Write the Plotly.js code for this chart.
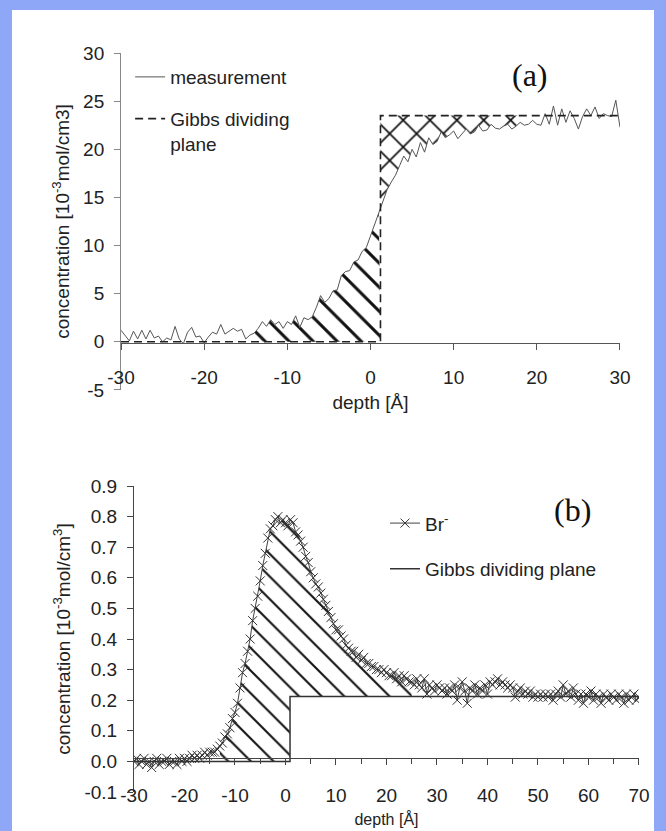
<!DOCTYPE html>
<html><head><meta charset="utf-8">
<script src="https://cdn.plot.ly/plotly-3.0.1.min.js"></script>
<style>
html,body{margin:0;padding:0;background:#8ea7f6;width:666px;height:831px;overflow:hidden}
#chart{position:absolute;left:12px;top:10px;width:642px;height:821px;background:#fff}
</style></head><body><div id="chart"></div>
<script>
// ---------- panel (a) ----------
const depthA = [
-30,-29.5,-29,-28.5,-28,-27.5,-27,-26.5,-26,-25.5,
-25,-24.5,-24,-23.5,-23,-22.5,-22,-21.5,-21,-20.5,
-20,-19.5,-19,-18.5,-18,-17.5,-17,-16.5,-16,-15.5,
-15,-14.5,-14,-13.5,-13,-12.5,-12,-11.5,-11,-10.5,
-10,-9.5,-9,-8.5,-8,-7.5,-7,-6.5,-6,-5.5,
-5,-4.5,-4,-3.5,-3,-2.5,-2,-1.5,-1,-0.5,
0,0.5,1,1.5,2,2.5,3,3.5,4,4.5,
5,5.5,6,6.5,7,7.5,8,8.5,9,9.5,
10,10.5,11,11.5,12,12.5,13,13.5,14,14.5,
15,15.5,16,16.5,17,17.5,18,18.5,19,19.5,
20,20.5,21,21.5,22,22.5,23,23.5,24,24.5,
25,25.5,26,26.5,27,27.5,28,28.5,29,29.5,
30];
const measurement = [
1.2,0.6,0.1,1.1,0.3,1.2,0.3,1.2,0.4,0.6,
0.0,0.4,0.2,1.6,0.3,-0.2,1.0,1.5,0.5,0.6,
-0.1,0.5,1.0,0.8,1.8,0.8,1.1,1.4,1.1,1.3,
0.3,0.7,0.9,1.4,2.1,1.6,2.3,1.8,2.1,1.4,
2.1,1.8,2.7,1.5,2.5,2.3,2.6,3.6,4.8,4.1,
4.5,5.3,5.4,6.9,7.3,7.4,8.3,8.5,9.4,9.8,
11.0,12.2,13.4,14.4,15.8,16.6,17.3,18.3,19.3,18.7,
20.0,19.2,20.7,19.7,21.2,20.5,20.8,21.8,21.2,21.5,
21.9,21.1,21.6,22.1,21.6,21.8,22.5,21.9,22.0,22.6,
22.2,22.1,22.4,22.6,22.1,22.4,22.8,22.5,22.6,23.0,
22.6,22.5,23.7,22.6,24.5,22.5,24.2,22.8,24.0,23.2,
22.1,23.4,24.2,23.5,24.4,23.2,23.7,23.5,23.4,25.1,
22.3];
const gibbsAX = [-30, 1.2, 1.2, 30];
const gibbsAY = [0, 0, 23.5, 23.5];
const hatchRangeA = [-14, 1.2];
const crossRangeA = [1.2, 19];
const xTickValsA = [-30,-20,-10,0,10,20,30];
const xTickTextA = ['-30','-20','-10','0','10','20','30'];
const yTickValsA = [-5,0,5,10,15,20,25,30];
const yTickTextA = ['-5','0','5','10','15','20','25','30'];

// ---------- panel (b) ----------
const depthB = [
-30,-29.5,-29,-28.5,-28,-27.5,-27,-26.5,-26,-25.5,
-25,-24.5,-24,-23.5,-23,-22.5,-22,-21.5,-21,-20.5,
-20,-19.5,-19,-18.5,-18,-17.5,-17,-16.5,-16,-15.5,
-15,-14.5,-14,-13.5,-13,-12.5,-12,-11.5,-11,-10.5,
-10,-9.5,-9,-8.5,-8,-7.5,-7,-6.5,-6,-5.5,
-5,-4.5,-4,-3.5,-3,-2.5,-2,-1.5,-1,-0.5,
0,0.5,1,1.5,2,2.5,3,3.5,4,4.5,
5,5.5,6,6.5,7,7.5,8,8.5,9,9.5,
10,10.5,11,11.5,12,12.5,13,13.5,14,14.5,
15,15.5,16,16.5,17,17.5,18,18.5,19,19.5,
20,20.5,21,21.5,22,22.5,23,23.5,24,24.5,
25,25.5,26,26.5,27,27.5,28,28.5,29,29.5,
30,30.5,31,31.5,32,32.5,33,33.5,34,34.5,
35,35.5,36,36.5,37,37.5,38,38.5,39,39.5,
40,40.5,41,41.5,42,42.5,43,43.5,44,44.5,
45,45.5,46,46.5,47,47.5,48,48.5,49,49.5,
50,50.5,51,51.5,52,52.5,53,53.5,54,54.5,
55,55.5,56,56.5,57,57.5,58,58.5,59,59.5,
60,60.5,61,61.5,62,62.5,63,63.5,64,64.5,
65,65.5,66,66.5,67,67.5,68,68.5,69,69.5,
70];
const bromide = [
0.00,0.01,-0.01,0.00,0.01,-0.01,0.00,-0.02,0.00,0.01,
-0.01,0.00,0.00,0.01,-0.01,0.00,0.00,-0.01,0.01,0.00,
0.01,0.00,0.01,0.02,0.01,0.02,0.01,0.02,0.03,0.02,
0.03,0.03,0.03,0.04,0.05,0.06,0.08,0.09,0.11,0.14,
0.16,0.19,0.24,0.29,0.32,0.36,0.40,0.46,0.50,0.54,
0.59,0.64,0.68,0.73,0.76,0.77,0.79,0.80,0.78,0.79,
0.78,0.77,0.79,0.78,0.75,0.74,0.72,0.70,0.67,0.65,
0.62,0.60,0.58,0.57,0.55,0.53,0.51,0.49,0.47,0.45,
0.43,0.43,0.41,0.40,0.38,0.37,0.36,0.36,0.34,0.35,
0.33,0.34,0.32,0.32,0.31,0.31,0.30,0.30,0.29,0.30,
0.29,0.28,0.28,0.29,0.27,0.28,0.26,0.28,0.27,0.26,
0.26,0.25,0.27,0.25,0.24,0.27,0.22,0.25,0.24,0.23,
0.25,0.24,0.23,0.24,0.22,0.24,0.23,0.25,0.20,0.24,
0.26,0.23,0.19,0.24,0.23,0.25,0.22,0.24,0.23,0.25,
0.22,0.26,0.25,0.26,0.27,0.25,0.26,0.25,0.24,0.25,
0.24,0.21,0.23,0.24,0.22,0.23,0.22,0.23,0.21,0.22,
0.21,0.22,0.21,0.22,0.21,0.22,0.20,0.22,0.23,0.21,
0.25,0.22,0.23,0.21,0.24,0.22,0.20,0.22,0.19,0.22,
0.21,0.23,0.20,0.22,0.21,0.19,0.22,0.21,0.20,0.22,
0.21,0.20,0.22,0.21,0.19,0.22,0.20,0.21,0.22,0.20,
0.21];
const gibbsBX = [-30, 0.9, 0.9, 70.5];
const gibbsBY = [0, 0, 0.212, 0.212];
const hatchRangeB = [-13, 25];
const xTickValsB = [-30,-20,-10,0,10,20,30,40,50,60,70];
const xTickTextB = ['-30','-20','-10','0','10','20','30','40','50','60','70'];
const yTickValsB = [-0.1,0,0.1,0.2,0.3,0.4,0.5,0.6,0.7,0.8,0.9];
const yTickTextB = ['-0.1','0.0','0.1','0.2','0.3','0.4','0.5','0.6','0.7','0.8','0.9'];

// ---------- build hatched polygons from the data ----------
function hatchLeftA(){
  const xs=[], ys=[];
  for(let i=0;i<depthA.length;i++){
    if(depthA[i]>=hatchRangeA[0] && depthA[i]<=hatchRangeA[1]){xs.push(depthA[i]);ys.push(measurement[i]);}
  }
  xs.push(gibbsAX[1]); ys.push(gibbsAY[1]);
  xs.push(hatchRangeA[0]); ys.push(0);
  return {x:xs,y:ys};
}
function crossRightA(){
  const top=gibbsAY[2];
  const xs=[crossRangeA[0],crossRangeA[1]], ys=[top,top];
  let lastY=top;
  for(let i=depthA.length-1;i>=0;i--){
    if(depthA[i]<=crossRangeA[1] && depthA[i]>=crossRangeA[0]){xs.push(depthA[i]);ys.push(measurement[i]);lastY=measurement[i];}
  }
  xs.push(crossRangeA[0]); ys.push(lastY);
  return {x:xs,y:ys};
}
function hatchB(){
  const xs=[], ys=[];
  for(let i=0;i<depthB.length;i++){
    if(depthB[i]>=hatchRangeB[0] && depthB[i]<=hatchRangeB[1]){xs.push(depthB[i]);ys.push(bromide[i]);}
  }
  xs.push(hatchRangeB[1]); ys.push(gibbsBY[2]);
  xs.push(gibbsBX[1]); ys.push(gibbsBY[2]);
  xs.push(gibbsBX[1]); ys.push(0);
  xs.push(hatchRangeB[0]); ys.push(0);
  return {x:xs,y:ys};
}
const hA=hatchLeftA(), cA=crossRightA(), hB=hatchB();

const FONT='Liberation Sans, Arial, Helvetica, sans-serif';
const traces=[
  {x:hA.x,y:hA.y,type:'scatter',mode:'lines',fill:'toself',fillcolor:'white',
   line:{width:0,color:'#111'},showlegend:false,hoverinfo:'skip',xaxis:'x',yaxis:'y',
   fillpattern:{shape:'\\',size:17,solidity:0.18,fgcolor:'#111',bgcolor:'white',fillmode:'replace'}},
  {x:cA.x,y:cA.y,type:'scatter',mode:'lines',fill:'toself',fillcolor:'white',
   line:{width:0,color:'#111'},showlegend:false,hoverinfo:'skip',xaxis:'x',yaxis:'y',
   fillpattern:{shape:'x',size:19,solidity:0.17,fgcolor:'#111',bgcolor:'white',fillmode:'replace'}},
  {x:depthA,y:measurement,type:'scatter',mode:'lines',name:'measurement',
   line:{color:'#555',width:1},xaxis:'x',yaxis:'y',legend:'legend',legendgroup:'m'},
  {x:gibbsAX,y:gibbsAY,type:'scatter',mode:'lines',name:'Gibbs dividing<br>plane',
   line:{color:'#222',width:1.6,dash:'8px,5px'},xaxis:'x',yaxis:'y',legend:'legend',legendgroup:'g'},

  {x:hB.x,y:hB.y,type:'scatter',mode:'lines',fill:'toself',fillcolor:'white',
   line:{width:0,color:'#222'},showlegend:false,hoverinfo:'skip',xaxis:'x2',yaxis:'y2',
   fillpattern:{shape:'\\',size:16,solidity:0.13,fgcolor:'#111',bgcolor:'white',fillmode:'replace'}},
  {x:depthB,y:bromide,type:'scatter',mode:'lines+markers',name:'Br<sup>-</sup>',
   line:{color:'#444',width:1},marker:{symbol:'x-thin',size:9,color:'#333',line:{width:1,color:'#333'}},
   xaxis:'x2',yaxis:'y2',legend:'legend2',legendgroup:'b'},
  {x:gibbsBX,y:gibbsBY,type:'scatter',mode:'lines',name:'Gibbs dividing plane',
   line:{color:'#333',width:1.5},xaxis:'x2',yaxis:'y2',legend:'legend2',legendgroup:'g2'}
];

const axBase={showgrid:false,zeroline:false,showline:true,ticks:'outside',ticklen:6,
  tickfont:{family:FONT,size:19,color:'#222'},tickmode:'array'};
const layout={
  width:642,height:821,margin:{l:0,r:0,t:0,b:0},
  paper_bgcolor:'white',plot_bgcolor:'rgba(0,0,0,0)',
  font:{family:FONT,size:19,color:'#222'},
  xaxis:Object.assign({},axBase,{domain:[0.1698,0.9470],range:[-30,30],anchor:'free',position:0.5944,
    linecolor:'#555',tickcolor:'#555',tickvals:xTickValsA,ticktext:xTickTextA,ticklabelstandoff:11,
    title:{text:'depth [Å]',font:{family:FONT,size:19,color:'#222'},standoff:8}}),
  yaxis:Object.assign({},axBase,{domain:[0.5372,0.9476],range:[-5,30],anchor:'x',
    linecolor:'#888',tickcolor:'#888',tickvals:yTickValsA,ticktext:yTickTextA,ticklabelstandoff:6,
    title:{text:'concentration [10<sup>-3</sup>mol/cm3]',font:{family:FONT,size:19,color:'#222'},standoff:8}}),
  xaxis2:Object.assign({},axBase,{domain:[0.1900,0.9766],range:[-30,70],anchor:'free',position:0.0889,
    linecolor:'#444',tickcolor:'#444',tickvals:xTickValsB,ticktext:xTickTextB,ticklabelstandoff:14,
    minor:{tickmode:'linear',tick0:-30,dtick:5,ticks:'outside',ticklen:5,tickcolor:'#444',showgrid:false},
    title:{text:'depth [Å]',font:{family:FONT,size:16,color:'#222'},standoff:8}}),
  yaxis2:Object.assign({},axBase,{domain:[0.0475,0.4202],range:[-0.1,0.9],anchor:'x2',
    linecolor:'#444',tickcolor:'#444',tickvals:yTickValsB,ticktext:yTickTextB,ticklabelstandoff:6,
    title:{text:'concentration [10<sup>-3</sup>mol/cm<sup>3</sup>]',font:{family:FONT,size:19,color:'#222'},standoff:8}}),
  legend:{x:0.184,y:0.9415,xanchor:'left',yanchor:'top',bgcolor:'rgba(0,0,0,0)',
    font:{family:FONT,size:19,color:'#222'},tracegroupgap:14,valign:'top',itemwidth:30},
  legend2:{x:0.581,y:0.398,xanchor:'left',yanchor:'top',bgcolor:'rgba(0,0,0,0)',
    font:{family:FONT,size:19,color:'#222'},tracegroupgap:18,itemwidth:30},
  annotations:[
    {text:'(a)',xref:'paper',yref:'paper',x:0.8069,y:0.9208,showarrow:false,xanchor:'center',yanchor:'middle',
     font:{family:'Liberation Serif, Times New Roman, serif',size:32,color:'#111'}},
    {text:'(b)',xref:'paper',yref:'paper',x:0.8738,y:0.3910,showarrow:false,xanchor:'center',yanchor:'middle',
     font:{family:'Liberation Serif, Times New Roman, serif',size:32,color:'#111'}}
  ]
};
Plotly.newPlot('chart',traces,layout,{displayModeBar:false,staticPlot:true});
</script></body></html>
